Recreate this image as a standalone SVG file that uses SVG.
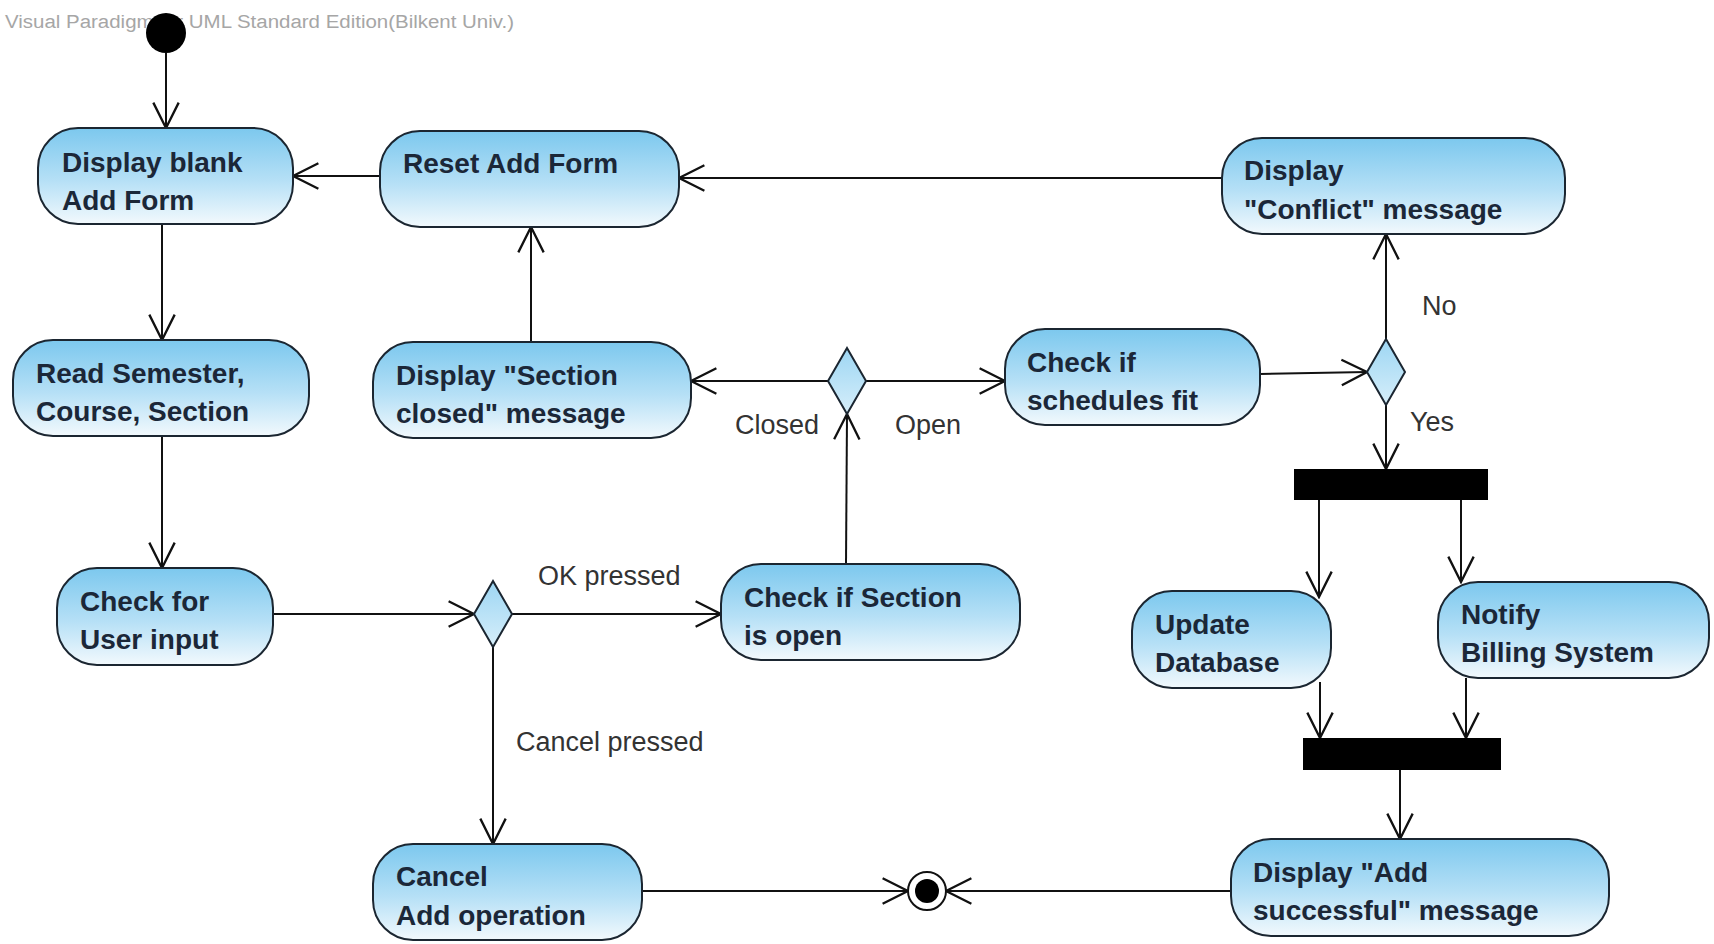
<svg xmlns="http://www.w3.org/2000/svg" width="1714" height="944" viewBox="0 0 1714 944">
  <defs>
    <linearGradient id="actFill" x1="0" y1="0" x2="0" y2="1">
      <stop offset="0" stop-color="#7cc8ee"/>
      <stop offset="0.55" stop-color="#b6e0f6"/>
      <stop offset="1" stop-color="#f2f9fd"/>
    </linearGradient>
    <linearGradient id="decFill" x1="0" y1="0" x2="0" y2="1">
      <stop offset="0" stop-color="#9dd6f3"/>
      <stop offset="1" stop-color="#d6eefa"/>
    </linearGradient>
    <marker id="open" markerUnits="userSpaceOnUse" markerWidth="30" markerHeight="30" viewBox="-24 -13 26 26" refX="0" refY="0" orient="auto">
      <path d="M-22,-11 L0,0 L-22,11" fill="none" stroke="#111" stroke-width="2"/>
    </marker>
    <style>
      .act { fill: url(#actFill); stroke: #1b2631; stroke-width: 2; }
      .dec { fill: url(#decFill); stroke: #1b2631; stroke-width: 2; }
      .bar { fill: #000; }
      .lbl { font-family: "Liberation Sans", Arial, sans-serif; font-weight: bold; font-size: 28px; fill: #1b2738; }
      .grd { font-family: "Liberation Sans", Arial, sans-serif; font-size: 27px; fill: #333; }
      .wm { font-family: "Liberation Sans", Arial, sans-serif; font-size: 18px; fill: #a6a6a6; }
      .flow { fill: none; stroke: #111; stroke-width: 2; marker-end: url(#open); }
    </style>
  </defs>

  <rect width="1714" height="944" fill="#fff"/>
  <text class="wm" x="5" y="28" textLength="509" lengthAdjust="spacingAndGlyphs">Visual Paradigm for UML Standard Edition(Bilkent Univ.)</text>

  <!-- transitions -->
  <g id="connectors">
    <line class="flow" x1="166" y1="53" x2="166" y2="128"/>
    <line class="flow" x1="380" y1="176" x2="293" y2="176"/>
    <line class="flow" x1="1222" y1="178" x2="679" y2="178"/>
    <line class="flow" x1="162" y1="224" x2="162" y2="340"/>
    <line class="flow" x1="162" y1="436" x2="162" y2="568"/>
    <line class="flow" x1="531" y1="342" x2="531" y2="227"/>
    <line class="flow" x1="828" y1="381" x2="691" y2="381"/>
    <line class="flow" x1="866" y1="381" x2="1005" y2="381"/>
    <line class="flow" x1="846" y1="564" x2="847" y2="414"/>
    <line class="flow" x1="1260" y1="374" x2="1367" y2="372"/>
    <line class="flow" x1="1386" y1="339" x2="1386" y2="234"/>
    <line class="flow" x1="1386" y1="405" x2="1386" y2="469"/>
    <line class="flow" x1="1319" y1="500" x2="1319" y2="597"/>
    <line class="flow" x1="1461" y1="500" x2="1461" y2="582"/>
    <line class="flow" x1="1320" y1="682" x2="1320" y2="738"/>
    <line class="flow" x1="1466" y1="678" x2="1466" y2="738"/>
    <line class="flow" x1="1400" y1="770" x2="1400" y2="839"/>
    <line class="flow" x1="273" y1="614" x2="474" y2="614"/>
    <line class="flow" x1="512" y1="614" x2="721" y2="614"/>
    <line class="flow" x1="493" y1="647" x2="493" y2="844"/>
    <line class="flow" x1="642" y1="891" x2="908" y2="891"/>
    <line class="flow" x1="1231" y1="891" x2="946" y2="891"/>
  </g>

  <!-- guard labels -->
  <g id="guards">
    <text class="grd" x="538" y="585">OK pressed</text>
    <text class="grd" x="516" y="751">Cancel pressed</text>
    <text class="grd" x="735" y="434">Closed</text>
    <text class="grd" x="895" y="434">Open</text>
    <text class="grd" x="1422" y="315">No</text>
    <text class="grd" x="1410" y="431">Yes</text>
  </g>

  <g id="start">
    <circle cx="166" cy="33" r="20" fill="#000"/>
  </g>

  <g id="displayBlank">
    <rect class="act" x="38" y="128" width="255" height="96" rx="40"/>
    <text class="lbl" x="62" y="172">Display blank</text>
    <text class="lbl" x="62" y="210">Add Form</text>
  </g>

  <g id="resetForm">
    <rect class="act" x="380" y="131" width="299" height="96" rx="40"/>
    <text class="lbl" x="403" y="173">Reset Add Form</text>
  </g>

  <g id="conflictMsg">
    <rect class="act" x="1222" y="138" width="343" height="96" rx="40"/>
    <text class="lbl" x="1244" y="180">Display</text>
    <text class="lbl" x="1244" y="219">"Conflict" message</text>
  </g>

  <g id="readInput">
    <rect class="act" x="13" y="340" width="296" height="96" rx="40"/>
    <text class="lbl" x="36" y="383">Read Semester,</text>
    <text class="lbl" x="36" y="421">Course, Section</text>
  </g>

  <g id="sectionClosed">
    <rect class="act" x="373" y="342" width="318" height="96" rx="40"/>
    <text class="lbl" x="396" y="385">Display "Section</text>
    <text class="lbl" x="396" y="423">closed" message</text>
  </g>

  <g id="openDecision">
    <polygon class="dec" points="847,348 866,381 847,414 828,381"/>
  </g>

  <g id="checkSchedules">
    <rect class="act" x="1005" y="329" width="255" height="96" rx="40"/>
    <text class="lbl" x="1027" y="372">Check if</text>
    <text class="lbl" x="1027" y="410">schedules fit</text>
  </g>

  <g id="fitDecision">
    <polygon class="dec" points="1386,339 1405,372 1386,405 1367,372"/>
  </g>

  <g id="fork">
    <rect class="bar" x="1294" y="469" width="194" height="31"/>
  </g>

  <g id="checkUserInput">
    <rect class="act" x="57" y="568" width="216" height="97" rx="40"/>
    <text class="lbl" x="80" y="611">Check for</text>
    <text class="lbl" x="80" y="649">User input</text>
  </g>

  <g id="inputDecision">
    <polygon class="dec" points="493,581 512,614 493,647 474,614"/>
  </g>

  <g id="checkSectionOpen">
    <rect class="act" x="721" y="564" width="299" height="96" rx="40"/>
    <text class="lbl" x="744" y="607">Check if Section</text>
    <text class="lbl" x="744" y="645">is open</text>
  </g>

  <g id="updateDb">
    <rect class="act" x="1132" y="591" width="199" height="97" rx="40"/>
    <text class="lbl" x="1155" y="634">Update</text>
    <text class="lbl" x="1155" y="672">Database</text>
  </g>

  <g id="notifyBilling">
    <rect class="act" x="1438" y="582" width="271" height="96" rx="40"/>
    <text class="lbl" x="1461" y="624">Notify</text>
    <text class="lbl" x="1461" y="662">Billing System</text>
  </g>

  <g id="join">
    <rect class="bar" x="1303" y="738" width="198" height="32"/>
  </g>

  <g id="cancelAdd">
    <rect class="act" x="373" y="844" width="269" height="96" rx="40"/>
    <text class="lbl" x="396" y="886">Cancel</text>
    <text class="lbl" x="396" y="925">Add operation</text>
  </g>

  <g id="addSuccess">
    <rect class="act" x="1231" y="839" width="378" height="97" rx="40"/>
    <text class="lbl" x="1253" y="882">Display "Add</text>
    <text class="lbl" x="1253" y="920">successful" message</text>
  </g>

  <g id="end">
    <circle cx="927" cy="891" r="19" fill="#fff" stroke="#111" stroke-width="2"/>
    <circle cx="927" cy="891" r="12" fill="#000"/>
  </g>
</svg>
